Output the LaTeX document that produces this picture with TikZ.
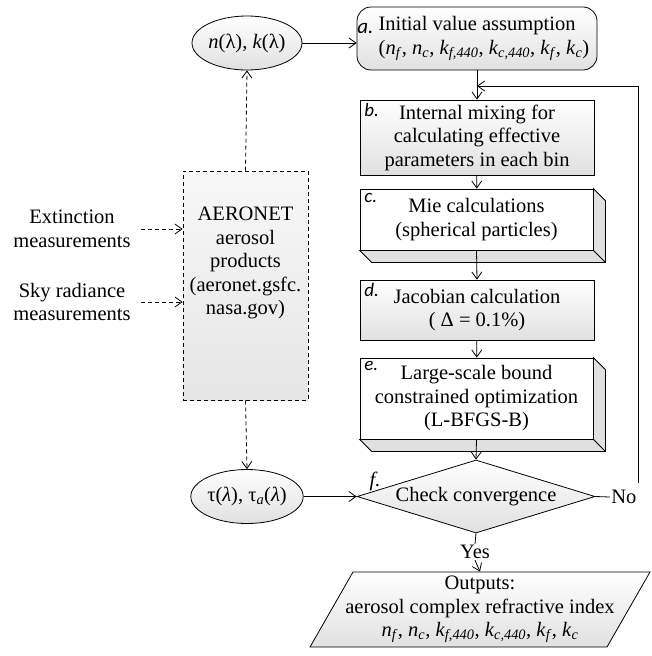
\documentclass[tikz,border=0pt]{standalone}
\usepackage{fontspec}
\setmainfont{Liberation Serif}
\newfontfamily\labfont{Carlito}
\usetikzlibrary{shapes.geometric,arrows.meta,calc}
\newcommand\vv[2]{\textit{#1}\textsubscript{\textit{#2}}}
\begin{document}
\begin{tikzpicture}[x=1pt,y=-1pt,
  font=\fontsize{20.5}{23.5}\selectfont,
  line width=0.8pt,
  shd/.style={top color=white,bottom color=black!12},
  box/.style={draw,shd,align=center,inner sep=0pt},
  plain/.style={draw,fill=white,align=center,inner sep=0pt},
  face/.style={draw,fill=black!12},
  tip/.style={-{Straight Barb[length=7pt,width=10pt]}},
  dsh/.style={dash pattern=on 4pt off 3pt},
  lab/.style={font=\fontsize{19}{19}\selectfont\labfont\itshape,inner sep=0pt,anchor=west},
]
\useasboundingbox (0,0) rectangle (651,656);

% ellipses
\node[box,ellipse,minimum width=110,minimum height=54] (nk) at (247,43) {\textit{n}(λ), \textit{k}(λ)};
\node[box,ellipse,minimum width=110,minimum height=54] (tau) at (247,496.5) {τ(\textit{λ}), τ\textsubscript{\textit{a}}(\textit{λ})};

% a
\node[box,rounded corners=14pt,minimum width=240,minimum height=63] (a) at (477,38.5)
  {Initial value assumption\\\hspace*{14pt}(\vv{n}{f}, \vv{n}{c}, \vv{k}{f,440}, \vv{k}{c,440}, \vv{k}{f}, \vv{k}{c})};
\node[lab,font=\fontsize{21}{21}\selectfont\labfont\itshape] (la) at (357,28) {a.};

% b
\node[box,minimum width=234,minimum height=75] (b) at (477,137.5)
  {Internal mixing for\\calculating effective\\parameters in each bin};
\node[lab] (lb) at (364,110) {b.};

% c (3D box)
\node[plain,minimum width=233,minimum height=61] (c) at (476.5,219.5)
  {Mie calculations\\(spherical particles)};
\draw[face] (c.north east) -- ++(12,12) -- ($(c.south east)+(12,12)$) -- ($(c.south west)+(12,12)$)
  -- (c.south west) -- (c.south east) -- cycle;
\draw (c.south east) -- ++(12,12);
\node[lab] (lc) at (364,198) {c.};

% d
\node[box,minimum width=234,minimum height=60] (d) at (477,310)
  {Jacobian calculation\\( Δ = 0.1\%)};
\node[lab] (ld) at (364,290) {d.};

% e (3D box)
\node[plain,minimum width=233,minimum height=81] (e) at (476.5,398.5)
  {Large-scale bound\\constrained optimization\\(L-BFGS-B)};
\draw[face] (e.north east) -- ++(12,12) -- ($(e.south east)+(12,12)$) -- ($(e.south west)+(12,12)$)
  -- (e.south west) -- (e.south east) -- cycle;
\draw (e.south east) -- ++(12,12);
\node[lab] (le) at (364,366) {e.};

% f diamond
\node[draw,shd,diamond,aspect=3.26,minimum width=238,minimum height=73,inner sep=0pt] (f) at (476,496.5) {Check convergence};
\node[inner sep=0pt] (lf) at (375,481) {\textit{f.}};
\node[inner sep=1pt,anchor=west] (no) at (610,497) {No};
\node[inner sep=1pt] (yes) at (475,552) {Yes};

% outputs parallelogram
\coordinate (pc) at (480,609.5);
\draw[shd] ($(pc)+(-127,-37.5)$) -- ($(pc)+(170,-37.5)$) -- ($(pc)+(127,37.5)$) -- ($(pc)+(-170,37.5)$) -- cycle;
\node[align=center,minimum height=75,inner sep=0pt] (out) at (pc)
  {Outputs:\\aerosol complex refractive index\\\vv{n}{f}, \vv{n}{c}, \vv{k}{f,440}, \vv{k}{c,440}, \vv{k}{f}, \vv{k}{c}};

% AERONET box
\node[draw,dsh,top color=black!3,bottom color=black!10,minimum width=125,minimum height=229,inner sep=0pt] (aer) at (245.5,285.5) {};
\node[align=center,inner sep=0pt] (aert) at (245.5,263)
  {AERONET\\aerosol\\products\\(aeronet.gsfc.\\nasa.gov)};
\node[align=center] (ext) at (72,229) {Extinction\\measurements};
\node[align=center] (sky) at (72,302) {Sky radiance\\measurements};

% connectors
\draw[tip] (nk.east) -- (nk.east -| a.west);
\draw[tip] (a) -- (b);
\draw[tip] (b) -- (c);
\draw[tip] (c.south) -- (d.north);
\draw[tip] (d) -- (e);
\draw[tip] (e.south) -- (f.north);
\draw[tip] (tau.east) -- (f.west);
\draw (f.east) -- (no.west);
\coordinate (fb1) at (638,483);
\coordinate (fb2) at (638,86);
\coordinate (join) at (477,86);
\draw[tip] (fb1) -- (fb2) -- (join);
\draw (f.south) -- (yes.north);
\draw[tip] (yes.south) -- (out.north);
\draw[tip,dsh] (aer.north) -- (nk.south);
\draw[tip,dsh] (aer.south) -- (tau.north);
\draw[tip,dsh,shorten <=7pt] (ext.east) -- (ext.east -| aer.west);
\draw[tip,dsh,shorten <=7pt] (sky.east) -- (sky.east -| aer.west);
\end{tikzpicture}
\end{document}
